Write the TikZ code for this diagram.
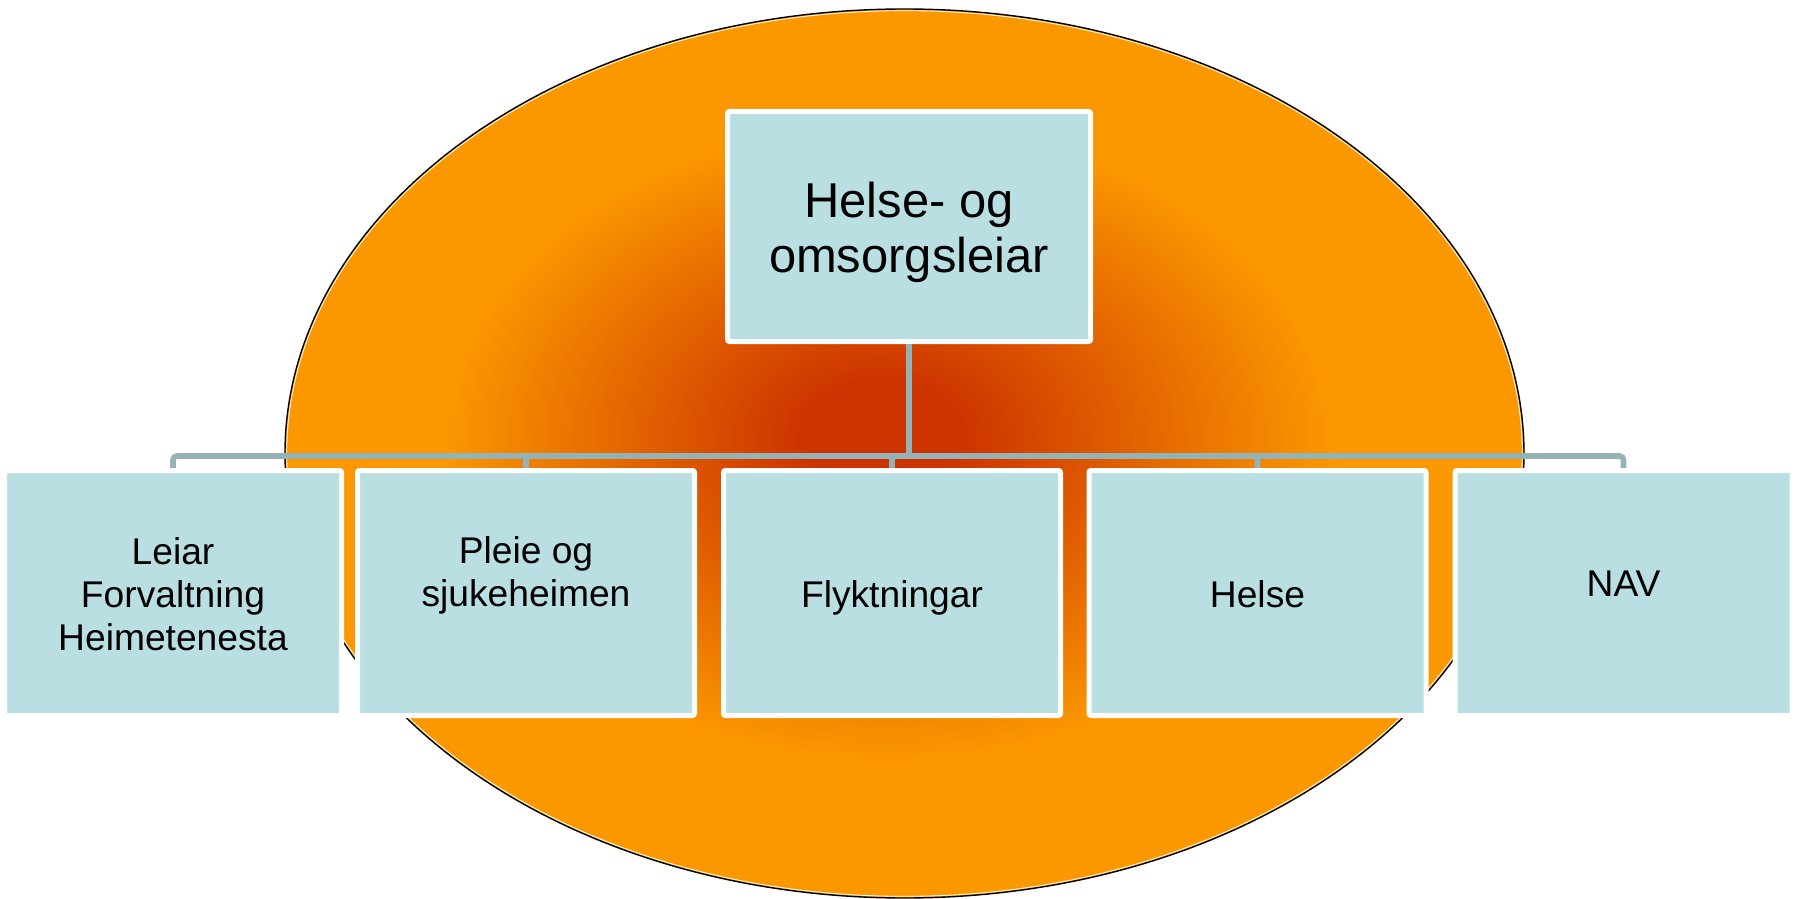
\documentclass[tikz,border=0pt]{standalone}
\usepackage{fontspec}
\setmainfont{Liberation Sans}
\definecolor{cdark}{RGB}{204,51,0}
\definecolor{corange}{RGB}{251,152,0}
\definecolor{boxfill}{RGB}{186,223,226}
\definecolor{conncol}{RGB}{149,179,183}
\pgfdeclareradialshading{orb}{\pgfpoint{-1bp}{1bp}}{color(0bp)=(cdark); color(3bp)=(cdark); color(18bp)=(corange); color(25bp)=(corange); color(50bp)=(corange)}
\begin{document}
\begin{tikzpicture}[x=0.5pt,y=-0.5pt,
  orgbox/.style={draw=white, line width=2.5pt, fill=boxfill, rounded corners=1pt,
    minimum width=168.5pt, minimum height=122.5pt, inner sep=0pt},
  topbox/.style={orgbox, minimum width=181.5pt, minimum height=115pt},
  lowtext/.style={align=center, inner sep=0pt, anchor=north, text=black,
    font=\fontsize{18.6}{21.4}\selectfont},
  toptext/.style={align=center, inner sep=0pt, anchor=north, text=black,
    font=\fontsize{24.45}{27.5}\selectfont},
  conn/.style={draw=conncol, line width=2.8pt, rounded corners=2pt}]
\useasboundingbox (0,0) rectangle (1796,899);
% background ellipse
\shade[shading=orb] (904.5,453.5) ellipse [x radius=309.75pt, y radius=222.25pt];
\draw[black, line width=0.7pt] (904.5,453.5) ellipse [x radius=309.75pt, y radius=222.25pt];
\draw[white, line width=0.4pt] (904.5,453.5) ellipse [x radius=308.9pt, y radius=221.4pt];
% boxes
\node[topbox] (top) at (909,226.5) {};
\node[orgbox] (c1) at (173,593) {};
\node[orgbox] (c2) at (526,593) {};
\node[orgbox] (c3) at (892,593) {};
\node[orgbox] (c4) at (1257.5,593) {};
\node[orgbox] (c5) at (1623.5,593) {};
% connectors
\coordinate (bus) at (909,456);
\draw[conn] (top.south) -- (bus);
\draw[conn] (bus) -| (c1.north);
\draw[conn] (bus) -| (c2.north);
\draw[conn] (bus) -| (c3.north);
\draw[conn] (bus) -| (c4.north);
\draw[conn] (bus) -| (c5.north);
% texts
\node[toptext] (ttop) at (909,182) {Helse- og\\omsorgsleiar};
\node[lowtext] (t1) at (173,537.3) {Leiar\\Forvaltning\\Heimetenesta};
\node[lowtext] (t2) at (526,536.3) {Pleie og\\sjukeheimen};
\node[lowtext] (t3) at (892,580.3) {Flyktningar};
\node[lowtext] (t4) at (1257.5,580.3) {Helse};
\node[lowtext] (t5) at (1623.5,570.3) {NAV};
\end{tikzpicture}
\end{document}
